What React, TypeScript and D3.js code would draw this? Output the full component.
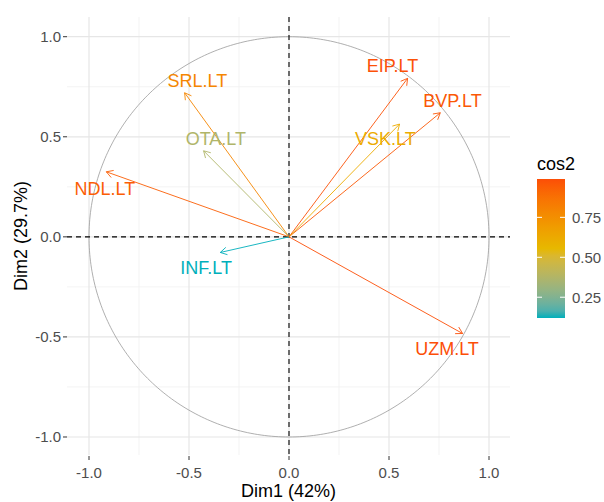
import React from "react";
import * as d3 from "d3";

const varNames = ["SRL.LT", "OTA.LT", "NDL.LT", "EIP.LT", "BVP.LT", "VSK.LT", "UZM.LT", "INF.LT"];
const dim1 = [-0.522, -0.427, -0.9135, 0.593, 0.7565, 0.553, 0.868, -0.3435];
const dim2 = [0.72, 0.43, 0.325, 0.792, 0.62, 0.5635, -0.483, -0.078];
const cos2 = [0.79, 0.37, 0.94, 0.98, 0.96, 0.62, 0.99, 0.12];
// label anchor positions (repelled), in data units
const labelX = [-0.458, -0.366, -0.921, 0.5175, 0.8175, 0.4815, 0.79, -0.4145];
const labelY = [0.78, 0.4875, 0.2375, 0.8545, 0.677, 0.4875, -0.5625, -0.154];

const majorTicks = [-1, -0.5, 0, 0.5, 1];
const minorTicks = [-0.75, -0.25, 0.25, 0.75];
const legendTicks = [0.25, 0.5, 0.75];
const gradientColors = ["#00AFBB", "#E7B800", "#FC4E07"];

const FONT = "'Liberation Sans', Arial, sans-serif";
const fmt1 = (t: number) => t.toFixed(1);
const fmt2 = (t: number) => t.toFixed(2);

export default function App() {
  const W = 604, H = 502;
  const pl = 67, pr = 510, pt = 17, pb = 455;
  const x = d3.scaleLinear().domain([-1.11, 1.105]).range([pl, pr]);
  const y = d3.scaleLinear().domain([-1.09, 1.0985]).range([pb, pt]);

  const ext = d3.extent(cos2) as [number, number];
  const color = d3
    .scaleLinear<string>()
    .domain([ext[0], (ext[0] + ext[1]) / 2, ext[1]])
    .range(gradientColors)
    .interpolate(d3.interpolateLab);

  const circlePts = d3.range(0, 361).map((a) => [Math.cos((a * Math.PI) / 180), Math.sin((a * Math.PI) / 180)] as [number, number]);
  const circlePath = d3
    .line<[number, number]>()
    .x((d) => x(d[0]))
    .y((d) => y(d[1]))(circlePts) as string;

  // legend
  const lx = 537, lw = 28, ltop = 179, lbot = 318;
  const ly = d3.scaleLinear().domain(ext).range([lbot, ltop]);
  const stops = d3.range(0, 21).map((i) => {
    const v = ext[0] + ((ext[1] - ext[0]) * i) / 20;
    return { off: (i / 20) * 100, c: color(v) };
  });

  const arrowLen = 7.5;

  return (
    <svg width={W} height={H} style={{ position: "absolute", left: 0, top: 0, background: "#fff" }} fontFamily={FONT}>
      <defs>
        <linearGradient id="cg" x1="0" y1="1" x2="0" y2="0">
          {stops.map((s, i) => (
            <stop key={i} offset={`${s.off}%`} stopColor={s.c} />
          ))}
        </linearGradient>
      </defs>
      {/* grid */}
      {minorTicks.map((t) => (
        <g key={"mn" + t}>
          <line x1={x(t)} x2={x(t)} y1={pt} y2={pb} stroke="#f0f0f0" strokeWidth={0.8} />
          <line x1={pl} x2={pr} y1={y(t)} y2={y(t)} stroke="#f0f0f0" strokeWidth={0.8} />
        </g>
      ))}
      {majorTicks.map((t) => (
        <g key={"mj" + t}>
          <line x1={x(t)} x2={x(t)} y1={pt} y2={pb} stroke="#e6e6e6" strokeWidth={1.2} />
          <line x1={pl} x2={pr} y1={y(t)} y2={y(t)} stroke="#e6e6e6" strokeWidth={1.2} />
        </g>
      ))}
      {/* circle */}
      <path d={circlePath} fill="none" stroke="#9a9a9a" strokeWidth={0.8} />
      {/* dashed axes */}
      <line x1={x(0)} x2={x(0)} y1={pt} y2={pb} stroke="#000" strokeWidth={1.1} strokeDasharray="5,4" />
      <line x1={pl} x2={pr} y1={y(0)} y2={y(0)} stroke="#000" strokeWidth={1.1} strokeDasharray="5,4" />
      {/* arrows */}
      {varNames.map((n, i) => {
        const x0 = x(0), y0 = y(0);
        const x1 = x(dim1[i]), y1 = y(dim2[i]);
        const th = Math.atan2(y1 - y0, x1 - x0);
        const a1 = th + Math.PI - Math.PI / 6;
        const a2 = th + Math.PI + Math.PI / 6;
        const c = color(cos2[i]);
        return (
          <g key={n} stroke={c} strokeWidth={0.9} fill="none">
            <line x1={x0} y1={y0} x2={x1} y2={y1} />
            <polyline
              points={`${x1 + arrowLen * Math.cos(a1)},${y1 + arrowLen * Math.sin(a1)} ${x1},${y1} ${x1 + arrowLen * Math.cos(a2)},${y1 + arrowLen * Math.sin(a2)}`}
            />
          </g>
        );
      })}
      {varNames.map((n, i) => (
        <text
          key={"l" + n}
          x={x(labelX[i])}
          y={y(labelY[i])}
          fill={color(cos2[i])}
          fontSize={18}
          textAnchor="middle"
          dominantBaseline="central"
        >
          {n}
        </text>
      ))}
      {/* axes ticks */}
      {majorTicks.map((t) => (
        <g key={"ax" + t}>
          <line x1={x(t)} x2={x(t)} y1={pb + 1} y2={pb + 5} stroke="#333" strokeWidth={1} />
          <text x={x(t)} y={478} fill="#4d4d4d" fontSize={15} textAnchor="middle">
            {fmt1(t)}
          </text>
          <line x1={pl - 4} x2={pl} y1={y(t)} y2={y(t)} stroke="#333" strokeWidth={1} />
          <text x={61} y={y(t)} fill="#4d4d4d" fontSize={15} textAnchor="end" dominantBaseline="central">
            {fmt1(t)}
          </text>
        </g>
      ))}
      <text x={(pl + pr) / 2} y={497} fontSize={18} textAnchor="middle" fill="#000">
        Dim1 (42%)
      </text>
      <text transform={`translate(27,${(pt + pb) / 2}) rotate(-90)`} fontSize={18} textAnchor="middle" fill="#000">
        Dim2 (29.7%)
      </text>
      {/* legend */}
      <text x={lx} y={170} fontSize={18} fill="#000">
        cos2
      </text>
      <rect x={lx} y={ltop} width={lw} height={lbot - ltop} fill="url(#cg)" />
      {legendTicks.map((t) => (
        <g key={"lt" + t}>
          <line x1={lx} x2={lx + 5} y1={ly(t)} y2={ly(t)} stroke="#fff" strokeWidth={1} />
          <line x1={lx + lw - 5} x2={lx + lw} y1={ly(t)} y2={ly(t)} stroke="#fff" strokeWidth={1} />
          <text x={lx + lw + 7} y={ly(t)} fontSize={15} fill="#4d4d4d" dominantBaseline="central">
            {fmt2(t)}
          </text>
        </g>
      ))}
    </svg>
  );
}
